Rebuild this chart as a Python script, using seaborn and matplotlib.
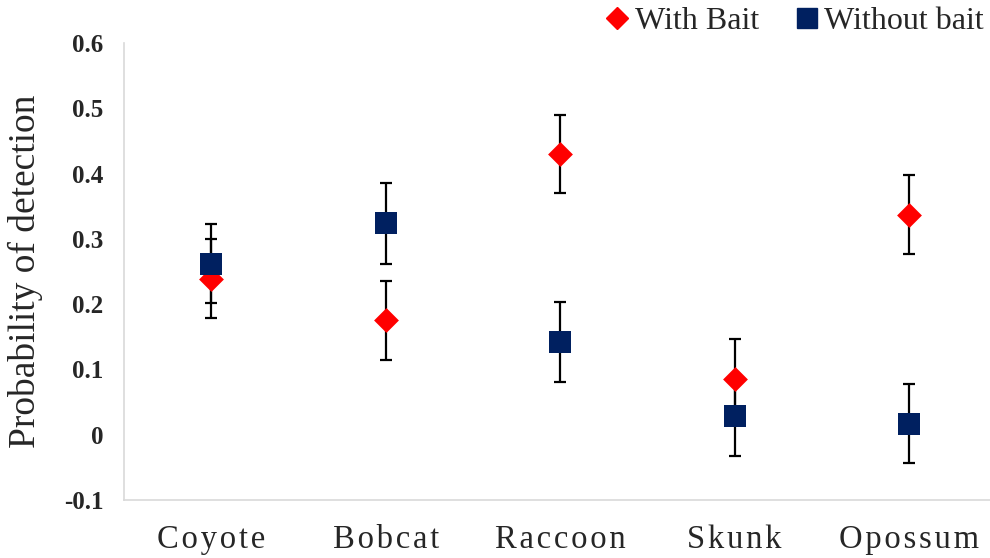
import matplotlib
matplotlib.use("Agg")
import matplotlib.pyplot as plt
from matplotlib.lines import Line2D
import seaborn as sns
import pandas as pd

species = ["Coyote", "Bobcat", "Raccoon", "Skunk", "Opossum"]
with_bait = [0.239, 0.175, 0.430, 0.086, 0.337]
with_bait_err = [0.060, 0.060, 0.060, 0.060, 0.060]
without_bait = [0.262, 0.324, 0.142, 0.029, 0.017]
without_bait_err = [0.061, 0.062, 0.061, 0.061, 0.060]
series = ["With Bait", "Without bait"]
y_ticks = [-0.1, 0, 0.1, 0.2, 0.3, 0.4, 0.5, 0.6]
y_tick_labels = ["-0.1", "0", "0.1", "0.2", "0.3", "0.4", "0.5", "0.6"]

df = pd.DataFrame({
    "species": species * 2,
    "value": with_bait + without_bait,
    "err": with_bait_err + without_bait_err,
    "series": [series[0]] * 5 + [series[1]] * 5,
})
df["x"] = df["species"].map({s: i for i, s in enumerate(species)})

sns.set_theme(style="white")
plt.rcParams["font.family"] = ["Liberation Serif", "DejaVu Serif"]

fig = plt.figure(figsize=(9.9, 5.58), dpi=100)
ax = fig.add_axes([0.1253, 0.104, 0.881, 0.819])

colors = {"With Bait": "#ff0000", "Without bait": "#002060"}
markers = {"With Bait": "D", "Without bait": "s"}
sizes = {"With Bait": 160, "Without bait": 260}

for s in series:
    sub = df[df["series"] == s]
    ax.errorbar(sub["x"], sub["value"], yerr=sub["err"], fmt="none",
                ecolor="black", elinewidth=1.6, capsize=4.6, capthick=1.6, zorder=2)

for s in series:
    sub = df[df["series"] == s]
    sns.scatterplot(data=sub, x="x", y="value", ax=ax, color=colors[s],
                    marker=markers[s], s=sizes[s], linewidth=0, zorder=3,
                    legend=False)

ax.set_xlim(-0.5, 4.5)
ax.set_ylim(-0.1, 0.6)
ax.set_xticks(range(len(species)))
ax.set_xticklabels(["\u200a".join(list(s)) for s in species], fontsize=23.5)
ax.set_yticks(y_ticks)
ax.set_yticklabels(y_tick_labels, fontsize=18, fontweight="bold")
ax.tick_params(axis="x", length=0, pad=18)
ax.tick_params(axis="y", length=0, pad=15)
ax.set_xlabel("")
ax.set_ylabel("Probability of detection", fontsize=27)
ax.yaxis.set_label_coords(-0.093, 0.5)
for side in ["top", "right"]:
    ax.spines[side].set_visible(False)
for side in ["left", "bottom"]:
    ax.spines[side].set_color("#d9d9d9")
    ax.spines[side].set_linewidth(1.2)
ax.grid(False)

handles = [
    Line2D([], [], linestyle="none", marker="D", color=colors["With Bait"], markersize=11),
    Line2D([], [], linestyle="none", marker="s", color=colors["Without bait"], markersize=14),
]
fig.legend(handles, series, loc="upper right", bbox_to_anchor=(1.023, 1.04), ncol=2,
           frameon=False, fontsize=23, handletextpad=0.05, columnspacing=1.0,
           handlelength=1.0)

fig.savefig("out.png", dpi=100)
